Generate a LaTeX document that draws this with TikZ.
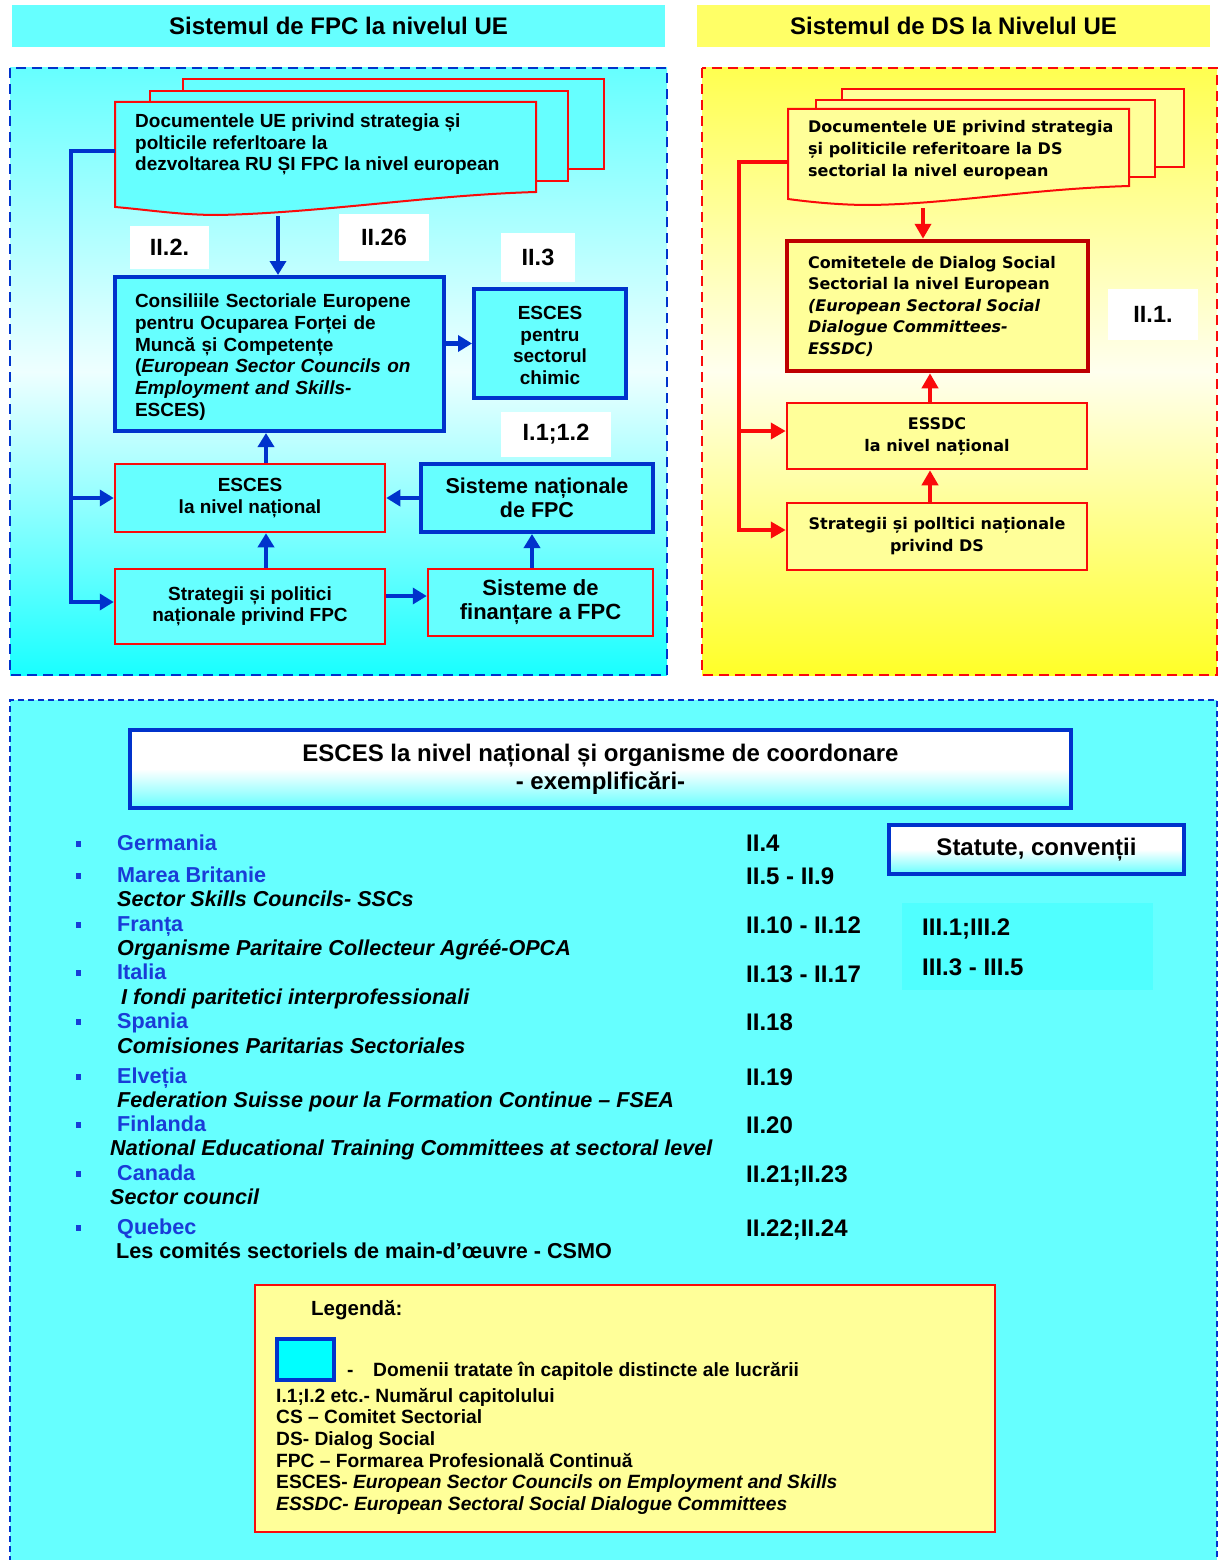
\documentclass[tikz,border=0pt]{standalone}
\usepackage{fontspec}
\setmainfont{Liberation Sans}
\newfontfamily\widesans{DejaVu Sans}
\usetikzlibrary{arrows.meta,calc}

\definecolor{cyanF}{RGB}{102,255,255}
\definecolor{cyanD}{RGB}{25,255,255}
\definecolor{cyanL}{RGB}{238,255,255}
\definecolor{cyanM}{RGB}{80,255,255}
\definecolor{cyanP}{RGB}{0,255,255}
\definecolor{bblue}{RGB}{0,51,204}
\definecolor{rred}{RGB}{250,10,10}
\definecolor{dred}{RGB}{190,0,0}
\definecolor{yelF}{RGB}{255,255,153}
\definecolor{yelH}{RGB}{255,255,102}
\definecolor{yelT}{RGB}{255,255,80}
\definecolor{yelD}{RGB}{255,255,40}
\definecolor{yelL}{RGB}{255,255,238}
\definecolor{ctry}{RGB}{25,60,215}

\newcommand{\fsz}[2]{\fontsize{#1}{#2}\selectfont}

\tikzset{
  every node/.style={inner sep=0pt},
  bluebox/.style={draw=bblue, line width=4pt, fill=cyanF},
  redbox/.style={draw=rred, line width=2.5pt, fill=cyanF},
  yelbox/.style={draw=rred, line width=2.5pt, fill=yelF},
  docshape/.style={draw=rred, line width=2pt},
  tag/.style={fill=white, font=\bfseries\fsz{23.5}{26}},
  barrow/.style={draw=bblue, line width=4.5pt, -{Triangle[length=14pt,width=16pt]}},
  rarrow/.style={draw=rred, line width=4pt, -{Triangle[length=15pt,width=16pt]}},
  txtL/.style={font=\bfseries\fsz{19}{21.5}},
  txtR/.style={font=\widesans\bfseries\fsz{16}{22}},
  country/.style={anchor=base west, text=ctry, font=\bfseries\fsz{21.6}{24}},
  orgname/.style={anchor=base west, font=\bfseries\itshape\fsz{21.6}{24}},
  chapref/.style={anchor=base west, font=\bfseries\fsz{24}{26}},
  dot/.style={fill=ctry, minimum width=5pt, minimum height=6pt},
  legline/.style={anchor=base west, font=\bfseries\fsz{19.2}{21.6}},
  banner/.style={draw=bblue, line width=4.5pt, top color=white, bottom color=cyanF, middle color=white},
}

\begin{document}
\begin{tikzpicture}[x=1pt, y=-1pt]
\useasboundingbox (0,0) rectangle (1219,1560);
\fill[white] (0,0) rectangle (1219,1560);

% ---------- headers ----------
\node[fill=cyanF, minimum width=653pt, minimum height=42pt, font=\bfseries\fsz{24}{26}] (hL) at (338.5,26) {Sistemul de FPC la nivelul UE};
\node[fill=yelH, minimum width=513pt, minimum height=42pt, font=\bfseries\fsz{24}{26}] (hR) at (953.5,26) {Sistemul de DS la Nivelul UE};

% ---------- left panel (FPC) ----------
\path[top color=cyanF, bottom color=cyanD, middle color=cyanL] (10,68) rectangle (667,675);
\draw[bblue, line width=2.5pt, dash pattern=on 10pt off 6pt] (10,68) rectangle (667,675);

% stacked documents
\draw[docshape, fill=cyanF] (183,79) rectangle (604,169);
\draw[docshape, fill=cyanF] (150,91) rectangle (568,181);
\draw[docshape, fill=cyanF] (115,102) -- (536,102) -- (536,192)
  .. controls (430,195) and (320,213) .. (218,215)
  .. controls (180,215) and (150,210) .. (115,207) -- cycle;
\node[txtL, anchor=west, align=left] (docL) at (135,144.5)
  {Documentele UE privind strategia și\\polticile referltoare la\\dezvoltarea RU ȘI FPC la nivel european};
\coordinate (docLb) at (278,216);
\coordinate (docLw) at (115,151);
\coordinate (busL) at (71,151);

% chapter tags
\node[tag, minimum width=79pt, minimum height=43pt] (t22) at (169.5,247.5) {II.2.};
\node[tag, minimum width=90pt, minimum height=47pt] (t226) at (384,237.5) {II.26};
\node[tag, minimum width=74pt, minimum height=49pt] (t23) at (538,257.5) {II.3};
\node[tag, minimum width=110pt, minimum height=45pt] (t11) at (556,434.5) {I.1;1.2};

% boxes
\node[bluebox, minimum width=329pt, minimum height=154pt, text width=289pt, inner xsep=20pt, align=left, font=\bfseries\fsz{19}{21.8}] (consil) at (279.5,354)
  {\rule{0pt}{20pt}Consiliile Sectoriale Europene\\pentru Ocuparea Forței de\\Muncă și Competențe\\(\textit{European Sector Councils on}\\\textit{Employment and Skills-}\\ESCES)};
\node[bluebox, txtL, minimum width=152pt, minimum height=109pt, align=center] (chimic) at (550,343.5)
  {\rule{0pt}{17pt}ESCES\\pentru\\sectorul\\chimic};
\node[redbox, txtL, minimum width=270pt, minimum height=68pt, align=center] (escesN) at (250,498)
  {ESCES\\la nivel național};
\node[bluebox, minimum width=232pt, minimum height=68pt, align=center, font=\bfseries\fsz{21.5}{23.5}] (sisN) at (537,498)
  {Sisteme naționale\\de FPC};
\node[redbox, txtL, minimum width=270pt, minimum height=75pt, align=center] (stratF) at (250,606.5)
  {Strategii și politici\\naționale privind FPC};
\node[redbox, minimum width=225pt, minimum height=67pt, align=center, font=\bfseries\fsz{22}{24}] (finant) at (540.5,602.5)
  {Sisteme de\\finanțare a FPC};

% connectors
\draw[barrow] (docLb) -- (docLb |- consil.north);
\draw[barrow] (consil.east |- chimic.center) -- (chimic.west);
\draw[barrow] ([xshift=16pt]escesN.north) -- ([xshift=16pt]escesN.north |- consil.south);
\draw[barrow] ([xshift=16pt]stratF.north) -- ([xshift=16pt]escesN.south);
\draw[barrow] (sisN.west) -- (escesN.east);
\draw[barrow] ([yshift=10.5pt]stratF.east) -- ([yshift=10.5pt]stratF.east -| finant.west);
\draw[barrow] ([xshift=-8.5pt]finant.north) -- ([xshift=-8.5pt]finant.north |- sisN.south);
\draw[barrow] (docLw) -- (busL) |- ([yshift=4.5pt]stratF.west);
\draw[barrow] (busL |- escesN.west) -- (escesN.west);

% ---------- right panel (DS) ----------
\path[top color=yelT, bottom color=yelD, middle color=yelL] (702,68) rectangle (1217,675);
\draw[rred, line width=2.5pt, dash pattern=on 10pt off 6pt] (702,68) rectangle (1217,675);

\draw[docshape, fill=yelF] (842,89) rectangle (1184,167);
\draw[docshape, fill=yelF] (816,100) rectangle (1155,177);
\draw[docshape, fill=yelF] (788,109) -- (1129,109) -- (1129,186)
  .. controls (1030,189) and (950,204) .. (869,205)
  .. controls (840,205) and (810,202) .. (788,199) -- cycle;
\node[txtR, anchor=west, align=left] (docR) at (808,150.5)
  {Documentele UE privind strategia\\și politicile referitoare la DS\\sectorial la nivel european};
\coordinate (docRb) at (923,208);
\coordinate (docRw) at (788,162);
\coordinate (busR) at (739,162);

\node[tag, minimum width=90pt, minimum height=51pt] (t21) at (1153,314) {II.1.};

\node[draw=dred, line width=4.5pt, fill=yelF, minimum width=301pt, minimum height=130pt, text width=259pt, inner xsep=21pt, align=left, font=\widesans\bfseries\fsz{16}{21.5}] (comit) at (937.5,306)
  {Comitetele de Dialog Social\\Sectorial la nivel European\\\textit{(European Sectoral Social}\\\textit{Dialogue Committees-}\\\textit{ESSDC)}};
\node[yelbox, txtR, minimum width=300pt, minimum height=66pt, align=center] (essdcN) at (937,436)
  {ESSDC\\la nivel național};
\node[yelbox, txtR, minimum width=300pt, minimum height=67pt, align=center] (stratD) at (937,536.5)
  {Strategii și polltici naționale\\privind DS};
\coordinate (essdcIn) at ([yshift=5pt]essdcN.west);

\draw[rarrow] (docRb) -- (docRb |- comit.north);
\draw[rarrow] ([xshift=-7pt]essdcN.north) -- ([xshift=-7pt]essdcN.north |- comit.south);
\draw[rarrow] ([xshift=-7pt]stratD.north) -- ([xshift=-7pt]essdcN.south);
\draw[rarrow] (docRw) -- (busR) |- ([yshift=6.5pt]stratD.west);
\draw[rarrow] (busR |- essdcIn) -- (essdcIn);

% ---------- bottom panel ----------
\fill[cyanF] (10,700) rectangle (1217,1560);
\draw[bblue, line width=2pt, dash pattern=on 6pt off 4pt] (10,1562) -- (10,700) -- (1217,700) -- (1217,1562);

\node[banner, minimum width=941pt, minimum height=78pt, align=center, font=\bfseries\fsz{24}{28}] (title) at (600.5,769)
  {ESCES la nivel național și organisme de coordonare\\- exemplificări-};
\node[banner, minimum width=295pt, minimum height=49pt, font=\bfseries\fsz{24}{26}] (statut) at (1036.5,849.5) {Statute, convenții};
\node[fill=cyanM, minimum width=251pt, minimum height=87pt] (IIIbox) at (1027.5,946.5) {};
\node[chapref] (r31) at (922,935.5) {III.1;III.2};
\node[chapref] (r33) at (922,975.5) {III.3 - III.5};

% country list
\node[dot] (b1) at (78,844) {};
\node[country] (c1) at (117,850.5) {Germania};
\node[chapref] (r1) at (746,851.5) {II.4};

\node[dot] (b2) at (78,876) {};
\node[country] (c2) at (117,882.5) {Marea Britanie};
\node[chapref] (r2) at (746,884.5) {II.5 - II.9};
\node[orgname] (o2) at (117,906.5) {Sector Skills Councils- SSCs};

\node[dot] (b3) at (78,925) {};
\node[country] (c3) at (117,931.5) {Franța};
\node[chapref] (r3) at (746,933.5) {II.10 - II.12};
\node[orgname] (o3) at (117,955.5) {Organisme Paritaire Collecteur Agréé-OPCA};

\node[dot] (b4) at (78,973) {};
\node[country] (c4) at (117,979.5) {Italia};
\node[chapref] (r4) at (746,982.5) {II.13 - II.17};
\node[orgname] (o4) at (121,1004.5) {I fondi paritetici interprofessionali};

\node[dot] (b5) at (78,1022) {};
\node[country] (c5) at (117,1028.5) {Spania};
\node[chapref] (r5) at (746,1030.5) {II.18};
\node[orgname] (o5) at (117,1053.5) {Comisiones Paritarias Sectoriales};

\node[dot] (b6) at (78,1077) {};
\node[country] (c6) at (117,1083.5) {Elveția};
\node[chapref] (r6) at (746,1085.5) {II.19};
\node[orgname] (o6) at (117,1107.5) {Federation Suisse pour la Formation Continue – FSEA};

\node[dot] (b7) at (78,1125) {};
\node[country] (c7) at (117,1131.5) {Finlanda};
\node[chapref] (r7) at (746,1133.5) {II.20};
\node[orgname] (o7) at (110,1155.5) {National Educational Training Committees at sectoral level};

\node[dot] (b8) at (78,1174) {};
\node[country] (c8) at (117,1180.5) {Canada};
\node[chapref] (r8) at (746,1182.5) {II.21;II.23};
\node[orgname] (o8) at (110,1204.5) {Sector council};

\node[dot] (b9) at (78,1228) {};
\node[country] (c9) at (117,1234.5) {Quebec};
\node[chapref] (r9) at (746,1236.5) {II.22;II.24};
\node[anchor=base west, font=\bfseries\fsz{21.6}{24}] (o9) at (116,1258.5) {Les comités sectoriels de main-d’œuvre - CSMO};

% legend
\node[draw=rred, line width=2pt, fill=yelF, minimum width=740pt, minimum height=247pt] (legend) at (625,1408.5) {};
\node[anchor=base west, font=\bfseries\fsz{20.5}{23}] (legT) at (311,1315.5) {Legendă:};
\node[draw=bblue, line width=4pt, fill=cyanP, minimum width=57pt, minimum height=41pt] (legSq) at (305.5,1359.5) {};
\node[legline] (lg0a) at (347,1376) {-};
\node[legline] (lg0) at (373,1376) {Domenii tratate în capitole distincte ale lucrării};
\node[legline] (lg1) at (276,1402) {I.1;I.2 etc.- Numărul capitolului};
\node[legline] (lg2) at (276,1423) {CS – Comitet Sectorial};
\node[legline] (lg3) at (276,1445) {DS- Dialog Social};
\node[legline] (lg4) at (276,1467) {FPC – Formarea Profesională Continuă};
\node[legline] (lg5) at (276,1488) {ESCES- \textit{European Sector Councils on Employment and Skills}};
\node[legline] (lg6) at (276,1510) {\textit{ESSDC- European Sectoral Social Dialogue Committees}};
\end{tikzpicture}
\end{document}
